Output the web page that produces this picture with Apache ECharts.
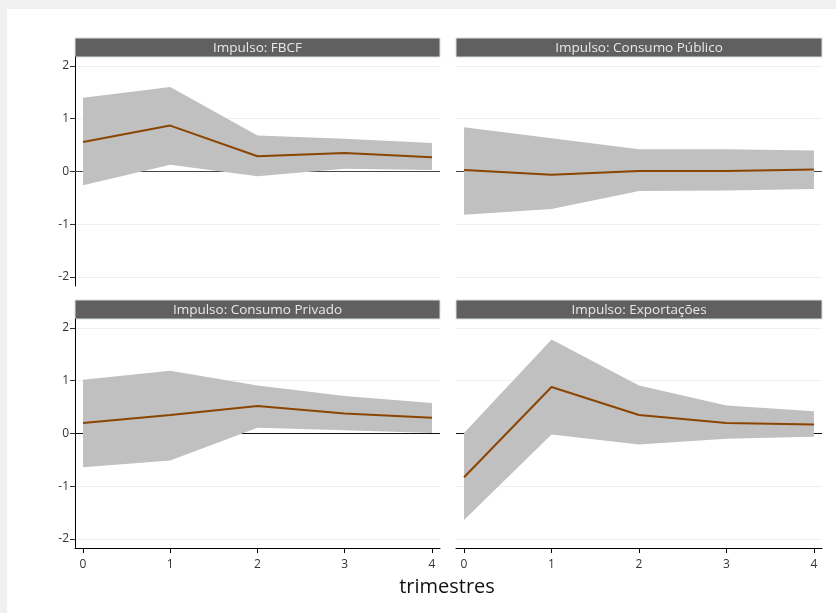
<!DOCTYPE html>
<html><head><meta charset="utf-8">
<script src="https://cdn.jsdelivr.net/npm/echarts@6/dist/echarts.min.js"></script>
<style>
html,body{margin:0;padding:0;background:#f0f0f0;overflow:hidden;}
#paper{position:absolute;left:7px;top:9px;width:829px;height:604px;background:#fff;}
#c{position:absolute;left:0;top:0;width:836px;height:613px;}
</style></head>
<body><div id="paper"></div><div id="c"></div>
<script>
// ---- data ----
const periods = [0, 1, 2, 3, 4];
const yTicks = [-2, -1, 0, 1, 2];
const xTicks = [0, 1, 2, 3, 4];
const panelTitles = ['Impulso: FBCF', 'Impulso: Consumo Público', 'Impulso: Consumo Privado', 'Impulso: Exportações'];
const xTitle = 'trimestres';

const fbcfIrf = [0.56, 0.87, 0.29, 0.35, 0.27];
const fbcfLo  = [-0.26, 0.13, -0.09, 0.05, 0.03];
const fbcfHi  = [1.40, 1.60, 0.68, 0.62, 0.54];

const cpubIrf = [0.03, -0.06, 0.01, 0.01, 0.04];
const cpubLo  = [-0.82, -0.71, -0.37, -0.36, -0.33];
const cpubHi  = [0.84, 0.63, 0.42, 0.42, 0.40];

const cprivIrf = [0.20, 0.35, 0.52, 0.38, 0.30];
const cprivLo  = [-0.64, -0.51, 0.11, 0.06, 0.01];
const cprivHi  = [1.02, 1.19, 0.91, 0.71, 0.58];

const expIrf = [-0.83, 0.88, 0.35, 0.20, 0.17];
const expLo  = [-1.64, -0.02, -0.21, -0.10, -0.06];
const expHi  = [0.01, 1.78, 0.91, 0.53, 0.42];

const panels = [
  {irf: fbcfIrf, lo: fbcfLo, hi: fbcfHi},
  {irf: cpubIrf, lo: cpubLo, hi: cpubHi},
  {irf: cprivIrf, lo: cprivLo, hi: cprivHi},
  {irf: expIrf, lo: expLo, hi: expHi}
];

// ---- layout ----
const FONT = '"Open Sans", "Noto Sans", sans-serif';
const boxes = [
  {left: 75, top: 57, width: 365, height: 229, hx: 75, hy: 38, leftCol: true, bottomRow: false},
  {left: 456, top: 57, width: 366, height: 229, hx: 456, hy: 38, leftCol: false, bottomRow: false},
  {left: 75, top: 319, width: 365, height: 229, hx: 75, hy: 300, leftCol: true, bottomRow: true},
  {left: 456, top: 319, width: 366, height: 229, hx: 456, hy: 300, leftCol: false, bottomRow: true}
];

const grid = [], xAxis = [], yAxis = [], series = [], graphic = [];
boxes.forEach((b, i) => {
  grid.push({left: b.left, top: b.top, width: b.width, height: b.height, containLabel: false});
  xAxis.push({
    type: 'value', gridIndex: i, min: -0.092, max: 4.092,
    axisLine: {show: b.bottomRow, onZero: false, lineStyle: {color: '#000', width: 1}},
    axisTick: {show: b.bottomRow, customValues: xTicks, length: 5, lineStyle: {color: '#000'}},
    axisLabel: {show: b.bottomRow, customValues: xTicks, color: '#333', fontSize: 12, fontFamily: FONT, margin: 11},
    splitLine: {show: false}
  });
  yAxis.push({
    type: 'value', gridIndex: i, min: -2.17, max: 2.17,
    axisLine: {show: b.leftCol, onZero: false, lineStyle: {color: '#000', width: 1}},
    axisTick: {show: b.leftCol, customValues: yTicks, length: 5, lineStyle: {color: '#333'}},
    axisLabel: {show: b.leftCol, customValues: yTicks, color: '#333', fontSize: 12, fontFamily: FONT, margin: 6},
    splitLine: {show: true, lineStyle: {color: '#eaf1f1', width: 1}}
  });
  const p = panels[i];
  // zero reference line (drawn beneath the band)
  series.push({
    type: 'line', xAxisIndex: i, yAxisIndex: i, data: [], z: 1, silent: true,
    markLine: {silent: true, z: 1, symbol: 'none', label: {show: false},
      lineStyle: {color: b.bottomRow ? '#111' : '#444', width: 1, type: 'solid'},
      data: [{yAxis: 0}]}
  });
  // confidence band
  const bandData = periods.map((t, k) => [t, p.lo[k], p.hi[k]]);
  series.push({
    type: 'custom', xAxisIndex: i, yAxisIndex: i, z: 10, silent: true,
    data: bandData, encode: {x: 0, y: [1, 2]},
    renderItem: function (params, api) {
      if (params.dataIndexInside !== 0) return null;
      const up = bandData.map(d => api.coord([d[0], d[2]]));
      const dn = bandData.slice().reverse().map(d => api.coord([d[0], d[1]]));
      return {type: 'polygon', shape: {points: up.concat(dn)}, style: {fill: '#c0c0c0'}};
    }
  });
  // impulse response line
  series.push({
    type: 'line', xAxisIndex: i, yAxisIndex: i, z: 11, silent: true,
    data: periods.map((t, k) => [t, p.irf[k]]),
    symbol: 'none', lineStyle: {color: '#8b4500', width: 2}
  });
  // panel header strip
  graphic.push({
    type: 'group', x: b.hx, y: b.hy, children: [
      {type: 'rect', shape: {x: 0, y: 0, width: b.width, height: 19},
        style: {fill: '#606060', stroke: '#d5e0e4', lineWidth: 1}},
      {type: 'text', x: b.width / 2, y: 10,
        style: {text: panelTitles[i], fill: '#e8e8e8', font: '13.5px ' + FONT, align: 'center', verticalAlign: 'middle'}}
    ]
  });
});
graphic.push({type: 'text', x: 447, y: 587,
  style: {text: xTitle, fill: '#111', font: '20px ' + FONT, align: 'center', verticalAlign: 'middle'}});

const chart = echarts.init(document.getElementById('c'), null, {renderer: 'canvas'});
chart.setOption({
  backgroundColor: 'transparent',
  animation: false,
  grid, xAxis, yAxis, series, graphic
});
</script>
</body></html>
